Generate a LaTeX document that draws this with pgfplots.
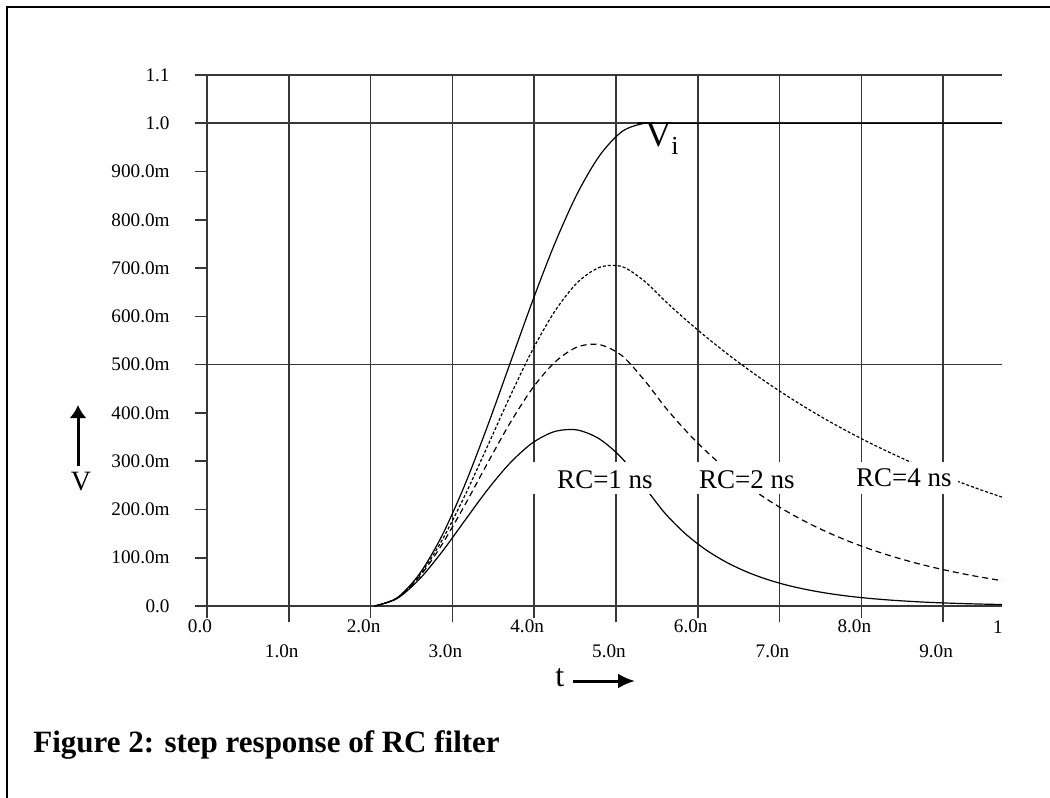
\documentclass[border=0pt]{standalone}
\usepackage{pgfplots}
\pgfplotsset{compat=1.18}
\usepackage{fontspec}
\setmainfont{Liberation Serif}
\usetikzlibrary{arrows.meta}
\definecolor{gridc}{gray}{0.22}

\begin{document}
\begin{tikzpicture}
\path[use as bounding box] (0,0) rectangle (525pt,-399pt);
\draw[line width=1pt] (3.5pt,-399pt) -- (3.5pt,-3.5pt) -- (525pt,-3.5pt);
\begin{axis}[
  at={(103.5pt,-303pt)}, anchor=south west,
  scale only axis, width=397.5pt, height=265.5pt,
  xmin=0, xmax=9.72, ymin=0, ymax=1.1,
  axis lines=left, axis line style={-, draw=gridc, line width=0.8pt},
  tick align=outside, major tick length=6pt,
  tick style={draw=gridc, line width=0.8pt},
  xtick={0,2,4,6,8}, xticklabels={0.0,2.0n,4.0n,6.0n,8.0n},
  extra x ticks={1,3,5,7,9}, extra x tick labels={1.0n,3.0n,5.0n,7.0n,9.0n},
  extra x tick style={grid=major, major tick length=8pt, xticklabel style={yshift=-10.5pt}},
  xmajorgrids, grid style={draw=gridc, line width=0.8pt},
  ytick={0,0.1,0.2,0.3,0.4,0.5,0.6,0.7,0.8,0.9,1.0,1.1},
  yticklabels={0.0,100.0m,200.0m,300.0m,400.0m,500.0m,600.0m,700.0m,800.0m,900.0m,1.0,1.1},
  ticklabel style={font=\fontsize{9.6}{11}\selectfont},
  yticklabel style={anchor=east, inner sep=0pt, xshift=-12.5pt},
  xticklabel style={anchor=center, inner sep=0pt, xshift=-3.5pt, yshift=-4pt},
  clip=false,
]
\draw[gridc, line width=0.8pt] (axis cs:0,0.5) -- (axis cs:9.72,0.5);
\draw[gridc, line width=0.8pt] (axis cs:0,1.0) -- (axis cs:9.72,1.0);
\draw[gridc, line width=0.8pt] (axis cs:0,1.1) -- (axis cs:9.72,1.1);

% V_i
\addplot[black, line width=0.6pt, smooth] coordinates {
(2.05,0) (2.325,0.0170) (2.6,0.0670) (2.875,0.1464) (3.15,0.25) (3.425,0.3706)
(3.7,0.5) (3.975,0.6294) (4.25,0.75) (4.525,0.8536) (4.8,0.9330) (5.075,0.9830)
(5.35,1.0) (5.6,1.0) (9.72,1.0)};

% RC = 1 ns
\addplot[black, line width=0.6pt, smooth] coordinates {
(2.05,0) (2.325,0.0156) (2.6,0.0561) (2.875,0.1126) (3.15,0.1765) (3.425,0.2398)
(3.7,0.2953) (3.975,0.3374) (4.25,0.3614) (4.525,0.3647) (4.8,0.3459) (5.075,0.3058)
(5.35,0.2465) (5.6,0.1920) (5.85,0.1495) (6.1,0.1164) (6.35,0.0907) (6.6,0.0706)
(6.85,0.0550) (7.1,0.0428) (7.35,0.0334) (7.6,0.0260) (7.85,0.0202) (8.1,0.0158)
(8.35,0.0123) (8.6,0.0096) (8.85,0.0074) (9.1,0.0058) (9.35,0.0045) (9.6,0.0035) (9.72,0.0031)};

% RC = 2 ns
\addplot[black, line width=0.6pt, smooth, dash pattern=on 3pt off 2pt] coordinates {
(2.05,0) (2.325,0.0163) (2.6,0.0612) (2.875,0.1279) (3.15,0.2084) (3.425,0.2945)
(3.7,0.3776) (3.975,0.4500) (4.25,0.5047) (4.525,0.5364) (4.8,0.5414) (5.075,0.5183)
(5.35,0.4672) (5.6,0.4123) (5.85,0.3639) (6.1,0.3211) (6.35,0.2834) (6.6,0.2501)
(6.85,0.2207) (7.1,0.1948) (7.35,0.1719) (7.6,0.1517) (7.85,0.1339) (8.1,0.1181)
(8.35,0.1043) (8.6,0.0920) (8.85,0.0812) (9.1,0.0717) (9.35,0.0632) (9.6,0.0558) (9.72,0.0526)};

% RC = 4 ns
\addplot[black, line width=0.6pt, smooth, dash pattern=on 1.5pt off 1pt] coordinates {
(2.05,0) (2.325,0.0167) (2.6,0.0641) (2.875,0.1367) (3.15,0.2278) (3.425,0.3293)
(3.7,0.4324) (3.975,0.5288) (4.25,0.6100) (4.525,0.6695) (4.8,0.7016) (5.075,0.7031)
(5.35,0.6727) (5.6,0.6319) (5.85,0.5936) (6.1,0.5577) (6.35,0.5239) (6.6,0.4921)
(6.85,0.4623) (7.1,0.4343) (7.35,0.4080) (7.6,0.3832) (7.85,0.3600) (8.1,0.3382)
(8.35,0.3177) (8.6,0.2984) (8.85,0.2803) (9.1,0.2634) (9.35,0.2474) (9.6,0.2324) (9.72,0.2256)};

\fill[white] (axis cs:3.89,0.232) rectangle (axis cs:9.18,0.298);
\node[font=\fontsize{13.5}{15}\selectfont, inner sep=0pt] at (axis cs:4.866,0.261) {RC=1 ns};
\node[font=\fontsize{13.5}{15}\selectfont, inner sep=0pt] at (axis cs:6.60,0.261) {RC=2 ns};
\node[font=\fontsize{13.5}{15}\selectfont, inner sep=0pt] at (axis cs:8.52,0.265) {RC=4 ns};
\node[anchor=base west, inner sep=0pt, font=\fontsize{18}{20}\selectfont] at (axis cs:5.355,0.951)
  {V\raisebox{-4pt}{\fontsize{13}{14}\selectfont i}};
\end{axis}
\node[anchor=center, inner sep=0pt, font=\fontsize{9.6}{11}\selectfont] at (499pt,-313.5pt) {1};
\draw[line width=1.5pt, -{Latex[length=6.5pt,width=8.5pt]}] (39pt,-233pt) -- (39pt,-202.5pt);
\node[anchor=base, inner sep=0pt, font=\fontsize{14}{16}\selectfont] at (40.5pt,-245pt) {V};
\node[anchor=base west, inner sep=0pt, font=\fontsize{16}{18}\selectfont] at (277.5pt,-343pt) {t};
\draw[line width=1.5pt, -{Latex[length=8.5pt,width=7.5pt]}] (286.5pt,-340.5pt) -- (317.5pt,-340.5pt);
\node[anchor=base west, inner sep=0pt, font=\bfseries\fontsize{15.5}{18}\selectfont] at (16.5pt,-376pt)
  {Figure 2: step response of RC filter};
\end{tikzpicture}
\end{document}
